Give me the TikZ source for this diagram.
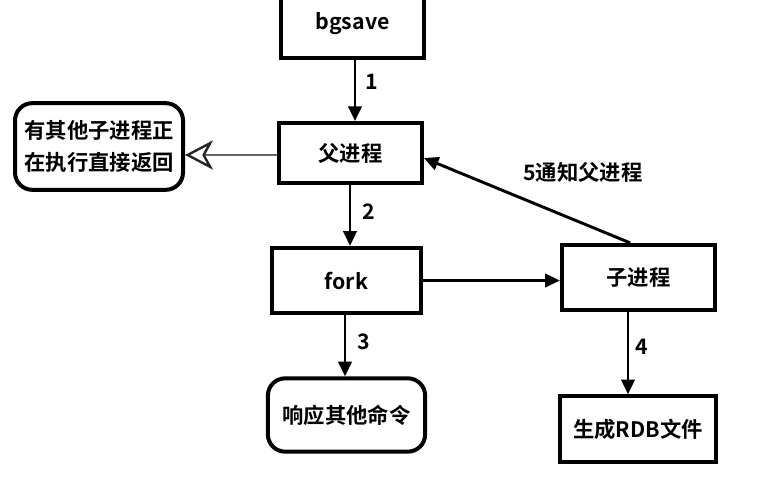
\documentclass[tikz,border=0pt]{standalone}
\usepackage{fontspec}
\setmainfont{Noto Sans CJK SC}[BoldFont={Noto Sans CJK SC Bold}]
\usetikzlibrary{arrows.meta}
\begin{document}
\begin{tikzpicture}[x=0.75pt,y=-0.75pt,
  font=\fontsize{16pt}{24pt}\selectfont\bfseries,
  box/.style={draw, line width=3pt, inner sep=0pt, align=center},
  roundbox/.style={box, rounded corners=13pt},
  arr/.style={line width=2.2pt, -{Triangle[length=11pt,width=10pt]}},
  hollow/.style={line width=2pt, draw=black!60,
    -{Stealth[open, length=21pt, width=22pt, inset=6pt, line width=1.8pt, fill=white, color=black!85]}},
  lbl/.style={inner sep=0pt}]
\useasboundingbox (0,0) rectangle (766,498);
\clip (0,0) rectangle (766,498);

% process boxes
\node[box, minimum width=107pt, minimum height=51pt] (bgsave) at (352.5,24) {bgsave};
\node[box, minimum width=107pt, minimum height=45pt] (parent) at (350.5,153) {父进程};
\node[roundbox, minimum width=126pt, minimum height=65pt] (busy) at (99,146.5)
  {有其他子进程正\\在执行直接返回};
\node[box, minimum width=112pt, minimum height=49pt] (fork) at (346.5,280.5) {fork};
\node[box, minimum width=115pt, minimum height=49pt] (child) at (638.5,277.5) {子进程};
\node[box, minimum width=117pt, minimum height=49pt] (rdb) at (638,429) {生成RDB文件};
\node[roundbox, minimum width=118pt, minimum height=55pt] (reply) at (346.5,415) {响应其他命令};

% x positions of the vertical connectors, y of the notify arrow end
\coordinate (x1) at (355,0);
\coordinate (x2) at (350,0);
\coordinate (x3) at (345,0);
\coordinate (x4) at (628,0);
\coordinate (x5) at (630,0);
\coordinate (y5) at (0,158);
\coordinate (yh) at (0,155);

% connectors
\draw[arr] (bgsave.south -| x1) -- (parent.north -| x1);
\draw[arr] (parent.south -| x2) -- (fork.north -| x2);
\draw[arr] (fork.south -| x3) -- (reply.north -| x3);
\draw[arr] (child.south -| x4) -- (rdb.north -| x4);
\draw[arr] (fork.east) -- (fork.east -| child.west);
\draw[arr] (child.north -| x5) -- (parent.east |- y5);
\draw[hollow] (parent.west |- yh) -- (busy.east |- yh);

% step labels
\node[lbl] (l1) at (372,82) {1};
\node[lbl] (l2) at (369,212) {2};
\node[lbl] (l3) at (364,342) {3};
\node[lbl] (l4) at (642,347) {4};
\node[lbl] (l5) at (583,172) {5通知父进程};
\end{tikzpicture}
\end{document}
